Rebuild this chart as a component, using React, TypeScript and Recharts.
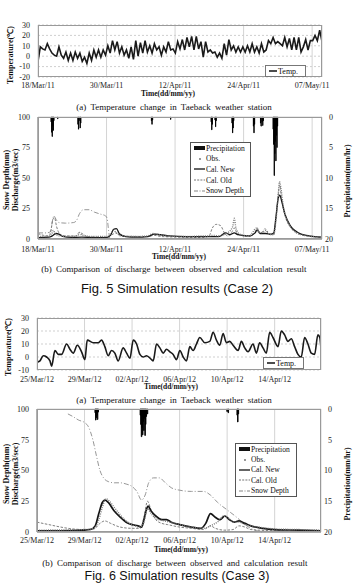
import React from "react";
import { ComposedChart, Line, Bar, XAxis, YAxis, CartesianGrid } from "recharts";

type Pair = [number, number];

const SERIF = '"Liberation Serif", "Times New Roman", serif';
const SANS = '"Liberation Sans", Arial, sans-serif';

// ---------- Case 2 (spring 2011), time in days from 18/Mar/11 ----------
const case2Ticks = [0, 12.5, 25, 37.5, 50];
const case2Labels = ["18/Mar/11", "30/Mar/11", "12/Apr/11", "24/Apr/11", "07/May/11"];
const case2Span = 51.8;

// temperature, sampled evenly over the whole period
const temp2: number[] = [
  -5, 9, 7, 6, 12, 7, 3, 1, 0, 9,
  1, -2, 4, -4, 3, -4, 4, -2, 3, -5,
  -1, -7, 3, -4, 6, -1, 6, -1, 6, 1,
  10, 3, 15, 6, 14, 3, 9, 1, 6, -2,
  9, -3, 15, 0, 13, 3, 15, 4, 10, 3,
  12, 6, 9, 1, 9, 4, 14, 6, 7, 3,
  14, 7, 16, 6, 18, 9, 19, 6, 19, 7,
  14, -1, 14, 4, 6, 3, 4, -1, 3, -2,
  12, 1, 16, 6, 10, 4, 9, 4, 9, 4,
  10, 4, 12, 4, 9, 3, 12, 4, 6, 15,
  12, 18, 12, 14, 12, 10, 18, 9, 17, 6,
  18, 6, 18, 4, 9, 16, 6, 15, 15, 20,
  15, 25, 14,
];

const precip2: Pair[] = [
  [2.4, 0.8], [2.5, 2.5], [2.6, 3.2], [2.7, 1.5], [2.8, 2.2], [2.9, 0.6],
  [3.6, 0.3],
  [7.3, 1.2], [7.4, 2], [7.5, 0.6], [7.7, 1.8], [7.8, 1],
  [20.7, 0.6], [20.8, 1.2], [20.9, 0.5],
  [24.2, 0.4],
  [31.6, 0.8], [31.7, 2.1], [31.8, 1.2], [32.3, 0.5], [32.4, 1.6], [32.5, 0.6],
  [35.4, 1], [35.5, 2.6], [35.6, 1.8], [35.7, 0.6],
  [39.3, 1.5], [39.4, 2.6], [39.5, 1.2],
  [40.6, 1], [40.7, 1.5], [40.9, 0.8], [41.0, 1.4], [41.1, 0.6],
  [42.9, 2], [43.0, 4.5], [43.1, 9.6], [43.2, 6], [43.3, 4], [43.4, 7.2], [43.5, 3], [43.6, 5], [43.7, 1.5],
];

const obs2: Pair[] = [
  [0, 2], [2, 2.2], [2.5, 4], [2.8, 7], [3.2, 4], [4, 2.5], [6, 2], [7.3, 3], [7.6, 5], [8, 3],
  [10, 2], [12.5, 2], [13.3, 4], [13.8, 7], [14.3, 5], [15, 3], [17, 2], [20, 2.5], [21, 4.5],
  [22, 3.5], [24, 2.5], [27, 2], [30, 2.5], [31, 2.5], [32, 3], [33, 2.5], [34.2, 4], [35.5, 10],
  [35.8, 17], [36.1, 9], [36.8, 4], [38.5, 2.5], [39.9, 9], [40.3, 5], [41.2, 6], [41.6, 7],
  [42.2, 4], [43, 3.5], [43.4, 15], [43.8, 35], [44.05, 47], [44.3, 42], [44.7, 28], [45.3, 17],
  [46.2, 9], [47.2, 5], [48.5, 3], [50, 2], [51.8, 1.5],
];

const calNew2: Pair[] = [
  [0, 1.2], [2, 1.5], [2.6, 2.5], [3.3, 4.5], [3.8, 4], [4.5, 2.2], [6, 1.3], [8, 1.5], [10, 1.2],
  [12.5, 1.2], [13.2, 3], [13.8, 8], [14.3, 8.5], [14.9, 4], [16, 2], [18, 1.5], [20, 2],
  [21.2, 4], [22.3, 3.5], [24, 2.5], [27, 2], [30, 2], [33, 2], [34.2, 5], [35, 3.5], [35.8, 5],
  [36.5, 3.5], [38.5, 2.5], [39.6, 5], [40, 7.5], [40.5, 4.5], [41.5, 4.5], [42.5, 4], [43, 5],
  [43.4, 18], [43.8, 33], [44.1, 36], [44.5, 30], [45, 21], [46, 11], [47, 6.5], [48, 4],
  [49, 3], [50.5, 2], [51.8, 1.5],
];

const calOld2: Pair[] = [
  [0, 4.5], [1, 3], [2, 2.5], [2.4, 8], [2.7, 16], [3, 17.5], [3.4, 10], [4, 4], [5, 2.5],
  [7, 2.5], [7.5, 5.5], [8.2, 4], [9, 2], [12.5, 1.5], [13.5, 3.5], [14.2, 5], [15, 2.5],
  [20, 2], [21.2, 3], [22.5, 2], [30, 1.2], [31.2, 2.5], [31.8, 9], [32.5, 12], [33.3, 11],
  [34, 5], [34.6, 2.5], [35.4, 6], [35.8, 9], [36.4, 4], [38.5, 2], [39.5, 5], [40, 9],
  [40.5, 5], [41, 6], [41.4, 8.5], [41.9, 5], [42.5, 3.5], [43, 4], [43.4, 16], [43.8, 36],
  [44.1, 44], [44.4, 34], [45, 20], [46, 10], [47, 5.5], [48.5, 3], [50, 2], [51.8, 1.2],
];

const snow2: Pair[] = [
  [0, 5], [1.5, 5], [2.3, 6], [2.6, 14], [2.9, 19], [3.3, 16], [3.8, 13.5], [5, 13], [6.5, 13.5],
  [7, 15], [7.6, 21], [8.3, 24], [9.3, 24], [10.3, 22], [11.3, 20.5], [12.3, 19], [12.6, 17],
  [12.9, 6], [13.1, 0],
];

// ---------- Case 3 (spring 2012), time in days from 25/Mar/12 ----------
const case3Ticks = [0, 4, 8, 12, 16, 20];
const case3Labels = ["25/Mar/12", "29/Mar/12", "02/Apr/12", "06/Apr/12", "10/Apr/12", "14/Apr/12"];
const case3Span = 23.9;

const temp3: Pair[] = [
  [0.03, -4], [0.25, -3], [0.53, 1], [0.81, 0], [1.09, -3], [1.23, -7], [1.51, 5], [1.79, 2],
  [2.07, 2], [2.49, 10], [2.77, 6], [3.05, 3], [3.39, 9], [3.75, 4], [4.03, -2], [4.23, 13],
  [4.73, 11], [5.15, 11], [5.43, 13], [5.71, 8], [5.99, 1], [6.27, 5], [6.55, 3], [6.83, -3],
  [7.25, 7], [7.54, 3], [7.82, -1], [8.1, 13], [8.38, 10], [8.66, 2], [8.94, 0], [9.22, 1],
  [9.64, -2], [9.78, -3], [10.06, 10], [10.34, 7], [10.62, 3], [10.9, 6], [11.18, 4], [11.46, 2],
  [11.74, -2], [12.02, 5], [12.3, 0], [12.58, -3], [12.86, 8], [13.14, 5], [13.42, 10], [13.7, 15],
  [14.12, 11], [14.54, 12], [14.82, 19], [15.1, 13], [15.38, 9], [15.66, 18], [15.94, 11],
  [16.22, 12], [16.5, 9], [16.92, 5], [17.2, 12], [17.48, 7], [17.76, 4], [18.18, 10], [18.46, 3],
  [18.74, 11], [19.02, 7], [19.3, 3], [19.58, 19], [19.86, 15], [20.28, 8], [20.56, 20],
  [20.84, 17], [21.12, 12], [21.4, 14], [21.68, 8], [21.96, 2], [22.24, 0], [22.52, 15],
  [22.8, 10], [23.08, 3], [23.36, 2], [23.64, 17], [23.8, 15], [23.9, 6],
];

const precip3: Pair[] = [
  [4.9, 0.6], [4.95, 1.8], [5.0, 1.4], [5.05, 1.0], [5.1, 1.7], [5.15, 0.5],
  [8.7, 1], [8.75, 2.5], [8.8, 4.5], [8.85, 3], [8.9, 4.2], [8.95, 2], [9.0, 3.5], [9.05, 1.5],
  [9.1, 4.3], [9.15, 2.5], [9.2, 1.2], [9.3, 0.8],
  [16.0, 0.4], [16.1, 0.6],
  [16.85, 1], [16.9, 2.1], [16.95, 0.8],
];

const obs3: Pair[] = [
  [0, 1.5], [4, 2], [4.8, 3], [5.2, 10], [5.5, 20], [5.8, 27], [6.1, 25], [6.5, 20], [7, 14],
  [7.5, 9], [8, 6], [8.7, 4], [9, 8], [9.3, 19], [9.6, 15], [10, 11], [10.7, 9], [11.2, 8],
  [12, 6], [13, 4], [14, 3], [14.8, 6], [15.3, 9], [15.7, 13], [16, 12], [16.6, 8], [17, 8],
  [17.5, 6], [18, 5], [19, 3.5], [20, 2.5], [22, 2], [23.9, 1.5],
];

const calNew3: Pair[] = [
  [0, 1], [2, 1], [4, 1.5], [4.5, 2], [4.9, 5], [5.2, 15], [5.5, 24], [5.7, 26], [6, 24],
  [6.5, 17], [7, 12], [7.5, 8], [8, 6], [8.5, 5], [8.8, 4], [9, 10], [9.2, 18], [9.35, 21],
  [9.6, 17], [10, 13], [10.5, 10], [10.9, 10], [11.3, 8], [12, 6], [13, 4], [13.8, 3],
  [14.2, 7], [14.6, 15], [15, 12], [15.4, 10], [15.8, 13], [16.2, 10], [16.6, 8], [17, 9],
  [17.5, 7], [18, 5], [19, 3], [20, 2], [22, 1.5], [23.9, 1],
];

const calOld3: Pair[] = [
  [0, 8], [1, 6], [2, 4], [3, 2.5], [4, 2], [4.8, 2.5], [5.3, 7], [5.7, 9], [6.2, 7], [7, 4],
  [8, 3], [8.7, 3], [9, 12], [9.3, 25], [9.6, 18], [10, 10], [10.5, 7], [11, 6], [12, 4],
  [13, 3], [14, 2], [14.6, 5], [15, 3], [15.8, 1.5], [16.5, 2], [17, 5], [17.5, 4], [18, 2],
  [20, 1], [23.9, 0.5],
];

const snow3: Pair[] = [
  [2.6, 96], [3, 94], [3.5, 91], [4, 89], [4.3, 86], [4.7, 75], [5, 62], [5.3, 50], [5.6, 44],
  [6, 41], [6.5, 40], [7, 40], [7.5, 39], [8, 37], [8.4, 33], [8.8, 26], [9.1, 30], [9.4, 40],
  [9.8, 44], [10.3, 44], [10.8, 40], [11.3, 36], [12, 34], [13, 33], [14, 33], [14.6, 30],
  [15.2, 24], [16, 18], [16.8, 12], [17.5, 6], [18.2, 2], [19, 0],
];

const tempTicks2 = [-20, -10, 0, 10, 20, 30];
const tempTicks3 = [-10, 0, 10, 20, 30];
const flowTicks = [0, 25, 50, 75, 100];
const rainTicks = [0, 5, 10, 15, 20];

const rows = (p: Pair[]) => p.map(([t, v]) => ({ t, v }));
const temp2Rows = temp2.map((v, i) => ({ t: (i * case2Span) / (temp2.length - 1), v }));

const tickFont = { fontSize: 8, fill: "#222", fontFamily: SERIF };

type Frame = { left: number; right: number; top: number; bottom: number };

function PlotBox({ f }: { f: Frame }) {
  return (
    <div
      style={{
        position: "absolute",
        left: f.left,
        top: f.top,
        width: f.right - f.left,
        height: f.bottom - f.top,
        border: "1px solid #9a9a9a",
        boxSizing: "border-box",
        pointerEvents: "none",
      }}
    />
  );
}

function Text({
  x, y, children, size = 8, bold = false, family = SERIF, rotate = false, wordSpacing = 0,
}: {
  x: number; y: number; children: React.ReactNode; size?: number; bold?: boolean;
  family?: string; rotate?: boolean; wordSpacing?: number;
}) {
  return (
    <div
      style={{
        position: "absolute",
        left: x,
        top: y,
        transform: `translate(-50%, -50%)${rotate ? " rotate(-90deg)" : ""}`,
        whiteSpace: "nowrap",
        fontFamily: family,
        fontSize: size,
        fontWeight: bold ? 700 : 400,
        wordSpacing,
        color: "#111",
        lineHeight: 1,
      }}
    >
      {children}
    </div>
  );
}

function TempPanel({
  top, height, f, data, span, xTicks, xLabels, yDomain, yTicks, curve, xTickMargin,
}: {
  top: number; height: number; f: Frame; data: { t: number; v: number }[]; span: number;
  xTicks: number[]; xLabels: string[]; yDomain: [number, number]; yTicks: number[];
  curve: "linear" | "monotone"; xTickMargin: number;
}) {
  return (
    <div style={{ position: "absolute", left: 0, top }}>
      <ComposedChart
        width={354}
        height={height}
        margin={{ top: f.top - top, right: 354 - f.right, bottom: 0, left: 0 }}
      >
        <CartesianGrid horizontal={false} stroke="#d4d4d4" />
        <CartesianGrid vertical={false} stroke="#cfcfcf" strokeDasharray="2 2" />
        <XAxis
          dataKey="t"
          type="number"
          domain={[0, span]}
          ticks={xTicks}
          interval={0}
          allowDataOverflow
          tickFormatter={(v: number) => xLabels[xTicks.indexOf(v)] ?? ""}
          height={height - (f.bottom - top)}
          tickSize={0}
          tickMargin={xTickMargin}
          axisLine={false}
          tick={tickFont}
        />
        <YAxis
          domain={yDomain}
          ticks={yTicks}
          interval={0}
          width={f.left}
          tickSize={0}
          tickMargin={8}
          axisLine={false}
          tick={tickFont}
        />
        <Line
          data={data}
          dataKey="v"
          type={curve}
          stroke="#1a1a1a"
          strokeWidth={1.6}
          dot={false}
          isAnimationActive={false}
        />
      </ComposedChart>
    </div>
  );
}

function FlowPanel({
  top, height, f, rain, obs, calNew, calOld, snow, span, xTicks, xLabels, xTickMargin, newWidth,
}: {
  top: number; height: number; f: Frame; rain: Pair[]; obs: Pair[]; calNew: Pair[];
  calOld: Pair[]; snow: Pair[]; span: number; xTicks: number[]; xLabels: string[];
  xTickMargin: number; newWidth: number;
}) {
  return (
    <div style={{ position: "absolute", left: 0, top }}>
      <ComposedChart
        width={354}
        height={height}
        data={rows(rain).map((r) => ({ t: r.t, p: r.v }))}
        margin={{ top: f.top - top, right: 0, bottom: 0, left: 0 }}
      >
        <CartesianGrid stroke="#d4d4d4" />
        <XAxis
          dataKey="t"
          type="number"
          domain={[0, span]}
          ticks={xTicks}
          interval={0}
          allowDataOverflow
          tickFormatter={(v: number) => xLabels[xTicks.indexOf(v)] ?? ""}
          height={height - (f.bottom - top)}
          tickSize={0}
          tickMargin={xTickMargin}
          axisLine={{ stroke: "#777" }}
          tick={tickFont}
        />
        <YAxis
          yAxisId="flow"
          domain={[0, 100]}
          ticks={flowTicks}
          interval={0}
          width={f.left}
          tickSize={0}
          tickMargin={8}
          axisLine={{ stroke: "#777" }}
          tick={tickFont}
        />
        <YAxis
          yAxisId="rain"
          orientation="right"
          reversed
          domain={[0, 20]}
          ticks={rainTicks}
          interval={0}
          width={354 - f.right}
          tickSize={0}
          tickMargin={11}
          axisLine={false}
          tick={{ ...tickFont, textAnchor: "end" }}
        />
        {/* hourly rain hangs from the top on the reversed right axis */}
        <Bar
          yAxisId="rain"
          dataKey="p"
          fill="#000"
          stroke="#000"
          strokeWidth={0.9}
          barSize={2}
          isAnimationActive={false}
        />
        <Line
          yAxisId="flow"
          data={rows(snow)}
          dataKey="v"
          type="monotone"
          stroke="#8a8a8a"
          strokeWidth={0.9}
          strokeDasharray="5 2 1 2"
          dot={false}
          isAnimationActive={false}
        />
        <Line
          yAxisId="flow"
          data={rows(calOld)}
          dataKey="v"
          type="monotone"
          stroke="#707070"
          strokeWidth={0.9}
          strokeDasharray="2.5 1.5"
          dot={false}
          isAnimationActive={false}
        />
        <Line
          yAxisId="flow"
          data={rows(calNew)}
          dataKey="v"
          type="monotone"
          stroke="#151515"
          strokeWidth={newWidth}
          dot={false}
          isAnimationActive={false}
        />
        <Line
          yAxisId="flow"
          data={rows(obs)}
          dataKey="v"
          type="monotone"
          stroke="#7a7a7a"
          strokeWidth={1.4}
          strokeDasharray="1 1.2"
          dot={false}
          isAnimationActive={false}
        />
      </ComposedChart>
    </div>
  );
}

const legendItems = ["Precipitation", "Obs.", "Cal. New", "Cal. Old", "Snow Depth"];

function Swatch({ i }: { i: number }) {
  return (
    <svg width={11} height={8} style={{ flex: "none", marginRight: 1 }}>
      {i === 0 && <rect x={0} y={2} width={11} height={4} fill="#111" />}
      {i === 1 && <circle cx={6} cy={4} r={0.9} fill="#666" />}
      {i === 2 && <line x1={0} y1={4} x2={11} y2={4} stroke="#111" strokeWidth={1.3} />}
      {i === 3 && (
        <line x1={0} y1={4} x2={11} y2={4} stroke="#666" strokeWidth={0.9} strokeDasharray="2 1.2" />
      )}
      {i === 4 && (
        <line x1={0} y1={4} x2={11} y2={4} stroke="#777" strokeWidth={0.9} strokeDasharray="4 1.5 1 1.5" />
      )}
    </svg>
  );
}

function FlowLegend({ left, top, width, height }: { left: number; top: number; width: number; height: number }) {
  return (
    <div
      style={{
        position: "absolute",
        left,
        top,
        width,
        height,
        border: "1px solid #555",
        background: "#fff",
        boxSizing: "border-box",
        padding: "0 0 0 3px",
        fontFamily: SERIF,
        fontSize: 7.6,
        color: "#111",
        whiteSpace: "nowrap",
      }}
    >
      {legendItems.map((name, i) => (
        <div key={name} style={{ display: "flex", alignItems: "center", height: (height - 2) / 5 }}>
          <Swatch i={i} />
          <span>{name}</span>
        </div>
      ))}
    </div>
  );
}

function TempLegend({ left, top }: { left: number; top: number }) {
  return (
    <div
      style={{
        position: "absolute",
        left,
        top,
        width: 41,
        height: 12,
        border: "1px solid #777",
        background: "#fff",
        boxSizing: "border-box",
        display: "flex",
        alignItems: "center",
        paddingLeft: 3,
        fontFamily: SERIF,
        fontSize: 8,
        color: "#111",
      }}
    >
      <svg width={8} height={6} style={{ marginRight: 1 }}>
        <line x1={0} y1={3} x2={8} y2={3} stroke="#111" strokeWidth={1.5} />
      </svg>
      <span>Temp.</span>
    </div>
  );
}

export default function App() {
  const t1: Frame = { left: 38, right: 322, top: 25, bottom: 77 };
  const d1: Frame = { left: 38, right: 322, top: 117, bottom: 239 };
  const t2: Frame = { left: 37, right: 321, top: 318, bottom: 370 };
  const d2: Frame = { left: 37, right: 321, top: 409, bottom: 532 };

  return (
    <div
      style={{
        position: "absolute",
        left: 0,
        top: 0,
        width: 354,
        height: 583,
        overflow: "hidden",
        background: "#fff",
      }}
    >
      {/* Fig. 5 (a) */}
      <TempPanel
        top={0}
        height={100}
        f={t1}
        data={temp2Rows}
        span={case2Span}
        xTicks={case2Ticks}
        xLabels={case2Labels}
        yDomain={[-20, 30]}
        yTicks={tempTicks2}
        curve="linear"
        xTickMargin={5}
      />
      <PlotBox f={t1} />
      <TempLegend left={265} top={65} />
      <Text x={11} y={55} bold rotate>Temperature(℃)</Text>
      <Text x={168} y={94} bold size={7.5}>Time(dd/mm/yy)</Text>
      <Text x={174} y={107} size={9} wordSpacing={2}>(a) Temperature change in Taeback weather station</Text>

      {/* Fig. 5 (b) */}
      <FlowPanel
        top={100}
        height={160}
        f={d1}
        rain={precip2}
        obs={obs2}
        calNew={calNew2}
        calOld={calOld2}
        snow={snow2}
        span={case2Span}
        xTicks={case2Ticks}
        xLabels={case2Labels}
        xTickMargin={7}
        newWidth={1.3}
      />
      <PlotBox f={d1} />
      <FlowLegend left={190} top={142} width={61} height={55} />
      <Text x={7} y={180} bold rotate>Snow Depth(mm)</Text>
      <Text x={16} y={180} bold rotate>Discharge(m3/sec)</Text>
      <Text x={348} y={181} bold rotate>Precipitation(mm/hr)</Text>
      <Text x={179} y={257} bold size={7.5}>Time(dd/mm/yy)</Text>
      <Text x={174} y={269} size={9} wordSpacing={2}>
        (b) Comparison of discharge between observed and calculation result
      </Text>
      <Text x={177} y={288} size={13} family={SANS}>Fig. 5 Simulation results (Case 2)</Text>

      {/* Fig. 6 (a) */}
      <TempPanel
        top={300}
        height={92}
        f={t2}
        data={rows(temp3)}
        span={case3Span}
        xTicks={case3Ticks}
        xLabels={case3Labels}
        yDomain={[-10, 30]}
        yTicks={tempTicks3}
        curve="monotone"
        xTickMargin={6}
      />
      <PlotBox f={t2} />
      <TempLegend left={263} top={357} />
      <Text x={9} y={347} bold rotate>Temperature(℃)</Text>
      <Text x={171} y={387} bold size={7.5}>Time(dd/mm/yy)</Text>
      <Text x={174} y={400} size={9} wordSpacing={2}>(a) Temperature change in Taeback weather station</Text>

      {/* Fig. 6 (b) */}
      <FlowPanel
        top={395}
        height={158}
        f={d2}
        rain={precip3}
        obs={obs3}
        calNew={calNew3}
        calOld={calOld3}
        snow={snow3}
        span={case3Span}
        xTicks={case3Ticks}
        xLabels={case3Labels}
        xTickMargin={5}
        newWidth={1.7}
      />
      <PlotBox f={d2} />
      <FlowLegend left={235} top={443} width={62} height={54} />
      <Text x={7} y={474} bold rotate>Snow Depth(mm)</Text>
      <Text x={16} y={474} bold rotate>Discharge(m3/sec)</Text>
      <Text x={348} y={484} bold rotate>Precipitation(mm/hr)</Text>
      <Text x={181} y={550} bold size={7.5}>Time(dd/mm/yy)</Text>
      <Text x={175} y={563} size={9} wordSpacing={2}>
        (b) Comparison of discharge between observed and calculation result
      </Text>
      <Text x={177} y={576} size={12.5} family={SANS}>Fig. 6 Simulation results (Case 3)</Text>
    </div>
  );
}
